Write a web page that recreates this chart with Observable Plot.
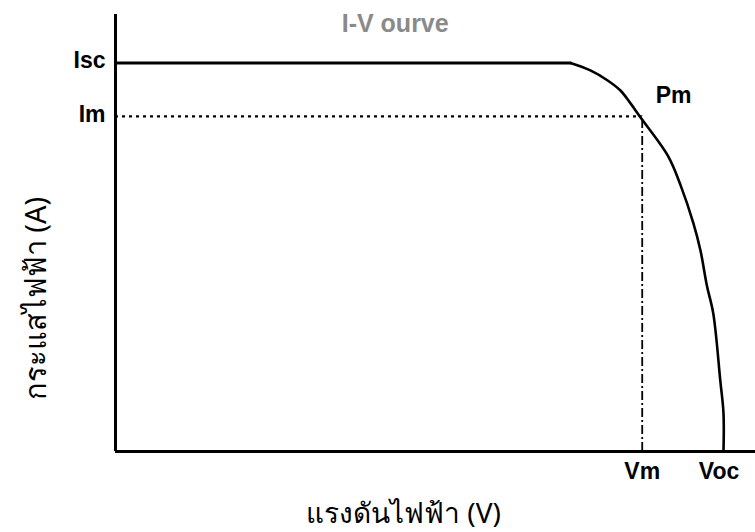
<!DOCTYPE html>
<html>
<head>
<meta charset="utf-8">
<script src="https://cdn.jsdelivr.net/npm/d3@7"></script>
<script src="https://cdn.jsdelivr.net/npm/@observablehq/plot@0.6"></script>
<style>
  html, body { margin: 0; padding: 0; background: #fff; }
  #chart svg { display: block; }
</style>
</head>
<body>
<div id="chart"></div>
<script>
// ---- data ----
const flatVoltage = [0, 71.1];
const flatCurrent = [8.89, 8.89];
const kneeVoltage = [71.1, 74.2, 76.9, 78.9, 80.5, 81.9, 86.3, 88.3, 90.3, 91.4, 92.4, 93.4, 94.5, 95.0, 95.0];
const kneeCurrent = [8.89, 8.72, 8.49, 8.26, 7.96, 7.67, 6.77, 6.09, 5.22, 4.60, 3.80, 3.16, 1.62, 0.87, 0];
const yTickValues = [8.89, 7.67];
const yTickLabels = ["Isc", "Im"];
const xTickValues = [82.3, 94.3];
const xTickLabels = ["Vm", "Voc"];
const Vm = 82.3, Im = 7.67;
const title = "I-V ourve";
const pmLabel = "Pm";
const xLabel = "แรงดันไฟฟ้า (V)";
const yLabel = "กระแสไฟฟ้า (A)";

const flat = flatVoltage.map((v, i) => ({V: v, I: flatCurrent[i]}));
const knee = kneeVoltage.map((v, i) => ({V: v, I: kneeCurrent[i]}));
const yTicks = yTickValues.map((v, i) => ({v, label: yTickLabels[i]}));
const xTicks = xTickValues.map((v, i) => ({v, label: xTickLabels[i]}));

const boldFont = "Liberation Sans, Arial, sans-serif";
const thaiFont = "Noto Sans, DejaVu Sans, sans-serif";

const chart = Plot.plot({
  width: 755,
  height: 532,
  marginLeft: 115,
  marginRight: 0,
  marginTop: 14,
  marginBottom: 81,
  x: {domain: [0, 100], axis: null},
  y: {domain: [0, 10], axis: null},
  style: {background: "#fff", overflow: "visible"},
  marks: [
    // axes
    Plot.ruleY([0], {x1: 0, x2: 100, stroke: "black", strokeWidth: 3}),
    Plot.ruleX([0], {y1: 0, y2: 10, stroke: "black", strokeWidth: 3}),
    // Im dotted guide
    Plot.ruleY([Im], {x1: 0, x2: Vm, stroke: "black", strokeWidth: 2.2, strokeDasharray: "3,4"}),
    // Vm dash-dot guide
    Plot.ruleX([Vm], {y1: 0, y2: Im, stroke: "black", strokeWidth: 1.8, strokeDasharray: "9,3,2,3"}),
    // I-V curve
    Plot.line(flat, {x: "V", y: "I", stroke: "black", strokeWidth: 3}),
    Plot.line(knee, {x: "V", y: "I", stroke: "black", strokeWidth: 2.6, curve: "catmull-rom"}),
    // y tick labels
    Plot.text(yTicks, {x: 0, y: "v", text: "label", textAnchor: "end", dx: -10, dy: -2,
      fontSize: 23, fontWeight: "bold", fontFamily: boldFont, fill: "black"}),
    // x tick labels
    Plot.text(xTicks, {x: "v", y: 0, text: "label", dy: 20,
      fontSize: 23, fontWeight: "bold", fontFamily: boldFont, fill: "black"}),
    // Pm label
    Plot.text([pmLabel], {x: 84.4, y: Im, text: d => d, textAnchor: "start", dy: -21,
      fontSize: 23, fontWeight: "bold", fontFamily: boldFont, fill: "black"}),
    // title
    Plot.text([title], {x: 43.7, y: 10, text: d => d, dy: 9,
      fontSize: 25, fontWeight: "bold", fontFamily: boldFont, fill: "#8a8a8a"}),
    // x label
    Plot.text([xLabel], {x: 45, y: -1.44, text: d => d,
      fontSize: 28, fontFamily: thaiFont, fill: "black"}),
    // y label
    Plot.text([yLabel], {x: -12.3, y: 3.5, text: d => d, rotate: -90,
      fontSize: 29, fontFamily: thaiFont, fill: "black"})
  ]
});
document.getElementById("chart").appendChild(chart);
</script>
</body>
</html>
